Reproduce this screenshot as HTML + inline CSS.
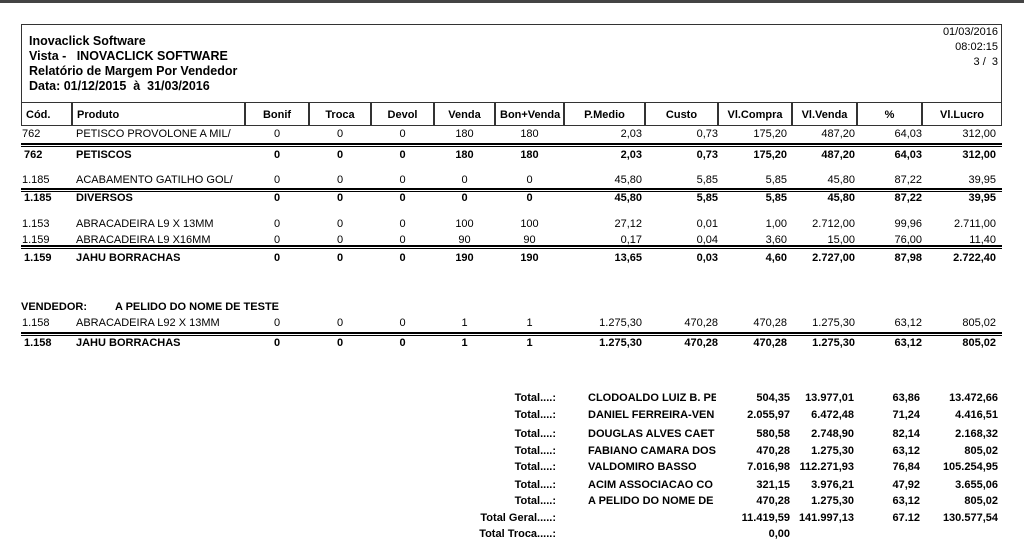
<!DOCTYPE html>
<html><head><meta charset="utf-8"><style>
body{margin:0;width:1024px;height:549px;background:#fff;position:relative;overflow:hidden;font-family:"Liberation Sans",Arial,sans-serif;color:#000}
.t{position:absolute;font-size:11px;line-height:13px;white-space:nowrap}
.b{font-weight:bold}
.box{position:absolute;border:1px solid #333;box-sizing:border-box}
.ln{position:absolute;background:#000}
</style></head><body>
<div style="position:absolute;left:0;top:0;width:1024px;height:3px;background:#444"></div>
<div class="box" style="left:21px;top:24px;width:981px;height:79px;border-bottom:none"></div>
<div class="t b" style="left:29px;top:35px;font-size:12.5px;font-weight:bold">Inovaclick Software</div>
<div class="t b" style="left:29px;top:50px;font-size:12.5px;font-weight:bold">Vista -&nbsp;&nbsp;&nbsp;INOVACLICK SOFTWARE</div>
<div class="t b" style="left:29px;top:65px;font-size:12.5px;font-weight:bold">Relatório de Margem Por Vendedor</div>
<div class="t b" style="left:29px;top:80px;font-size:12.5px;font-weight:bold">Data: 01/12/2015&nbsp;&nbsp;à&nbsp;&nbsp;31/03/2016</div>
<div class="t" style="right:26px;top:26px;text-align:right">01/03/2016</div>
<div class="t" style="right:26px;top:41px">08:02:15</div>
<div class="t" style="right:26px;top:56px">3 /&nbsp;&nbsp;3</div>
<div id="root"></div>
<script>
const cols=[[21,72,'Cód.','l'],[72,245,'Produto','l'],[245,309,'Bonif','c'],[309,371,'Troca','c'],[371,434,'Devol','c'],[434,495,'Venda','c'],[495,564,'Bon+Venda','c'],[564,645,'P.Medio','c'],[645,718,'Custo','c'],[718,792,'Vl.Compra','c'],[792,857,'Vl.Venda','c'],[857,922,'%','c'],[922,1002,'Vl.Lucro','c']];
const rightEdges=[0,0,0,0,0,0,0,642,718,787,855,922,996];
const rows=[
[128,0,['762','PETISCO PROVOLONE A MIL/','0','0','0','180','180','2,03','0,73','175,20','487,20','64,03','312,00']],
[149,1,['762','PETISCOS','0','0','0','180','180','2,03','0,73','175,20','487,20','64,03','312,00']],
[174,0,['1.185','ACABAMENTO GATILHO GOL/','0','0','0','0','0','45,80','5,85','5,85','45,80','87,22','39,95']],
[192,1,['1.185','DIVERSOS','0','0','0','0','0','45,80','5,85','5,85','45,80','87,22','39,95']],
[218,0,['1.153','ABRACADEIRA L9 X 13MM','0','0','0','100','100','27,12','0,01','1,00','2.712,00','99,96','2.711,00']],
[234,0,['1.159','ABRACADEIRA L9 X16MM','0','0','0','90','90','0,17','0,04','3,60','15,00','76,00','11,40']],
[252,1,['1.159','JAHU BORRACHAS','0','0','0','190','190','13,65','0,03','4,60','2.727,00','87,98','2.722,40']],
[317,0,['1.158','ABRACADEIRA L92 X 13MM','0','0','0','1','1','1.275,30','470,28','470,28','1.275,30','63,12','805,02']],
[337,1,['1.158','JAHU BORRACHAS','0','0','0','1','1','1.275,30','470,28','470,28','1.275,30','63,12','805,02']]];
const sepLines=[143,188,245,332];
const totNames=['CLODOALDO LUIZ B. PE','DANIEL FERREIRA-VEN','DOUGLAS ALVES CAET','FABIANO CAMARA DOS','VALDOMIRO BASSO','ACIM ASSOCIACAO CO','A PELIDO DO NOME DE'];
const totCompra=['504,35','2.055,97','580,58','470,28','7.016,98','321,15','470,28'];
const totVenda=['13.977,01','6.472,48','2.748,90','1.275,30','112.271,93','3.976,21','1.275,30'];
const totPct=['63,86','71,24','82,14','63,12','76,84','47,92','63,12'];
const totLucro=['13.472,66','4.416,51','2.168,32','805,02','105.254,95','3.655,06','805,02'];
const totY=[392,409,428,445,461,479,495];
const root=document.getElementById('root');
function mk(cls,txt,css){const d=document.createElement('div');d.className=cls;d.textContent=txt;d.style.cssText=css;root.appendChild(d);return d;}
cols.forEach((c,i)=>{
  const h=mk('t b',c[2],`left:${c[0]}px;top:102px;width:${c[1]-c[0]}px;height:24px;box-sizing:border-box;border:1px solid #333;line-height:24px;padding:0 4px;text-align:${c[3]=='l'?'left':'center'}`);
  
  
});
rows.forEach(r=>{
  r[2].forEach((v,i)=>{
    const c=cols[i];let css=`top:${r[0]}px;`;
    if(i==0)css+=`left:${r[1]?24:22}px`;
    else if(i==1)css+=`left:76px;width:166px;overflow:hidden`;
    else if(i<7)css+=`left:${c[0]}px;width:${c[1]-c[0]}px;text-align:center`;
    else css+=`right:${1024-rightEdges[i]}px;text-align:right`;
    const d=mk(r[1]?'t b':'t',v,css);
    
    
  });
});
sepLines.forEach(y=>{
  const a=mk('ln','',`left:21px;top:${y}px;width:981px;height:2px`);
  
  
  const b=mk('ln','',`left:21px;top:${y+3}px;width:981px;height:1px`);
  
  
});
const vend=mk('t b','VENDEDOR:',`left:21px;top:301px`);


const vn=mk('t b','A PELIDO DO NOME DE TESTE',`left:115px;top:301px`);


totNames.forEach((n,i)=>{
  const y=totY[i];
  const a=mk('t b','Total....:',`right:${1024-556}px;top:${y}px`);
  
  
  const b=mk('t b',n,`left:588px;top:${y}px;width:128px;overflow:hidden`);
  
  
  [[totCompra[i],790],[totVenda[i],854],[totPct[i],920],[totLucro[i],998]].forEach(p=>{
    const c=mk('t b',p[0],`right:${1024-p[1]}px;top:${y}px`);
    
    
  });
});
const g=[['Total Geral.....:',512],['Total Troca.....:',528]];
g.forEach(p=>{
  const a=mk('t b',p[0],`right:${1024-556}px;top:${p[1]}px`);
  
  
});
[['11.419,59',790],['141.997,13',854],['67.12',920],['130.577,54',998]].forEach(p=>{
  const c=mk('t b',p[0],`right:${1024-p[1]}px;top:512px`);
  
  
});
const tr=mk('t b','0,00',`right:${1024-790}px;top:528px`);


</script>
</body></html>
